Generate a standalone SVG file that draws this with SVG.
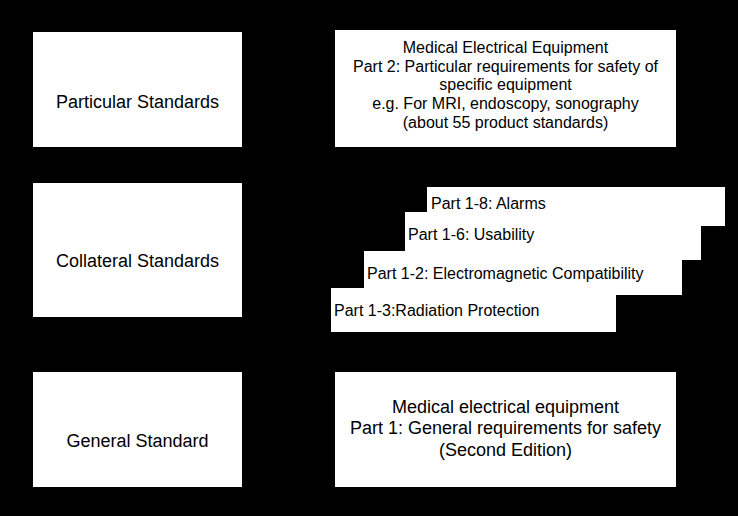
<svg xmlns="http://www.w3.org/2000/svg" width="738" height="516" viewBox="0 0 738 516">
<style>
.box{fill:#fff;stroke:none}
.t18{font-family:"Liberation Sans",Arial,sans-serif;font-size:18px;fill:#000;text-anchor:middle}
.t16{font-family:"Liberation Sans",Arial,sans-serif;font-size:16px;fill:#000;text-anchor:middle}
.s16{font-family:"Liberation Sans",Arial,sans-serif;font-size:16px;fill:#000}
</style>
<rect x="0" y="0" width="738" height="516" fill="#000"/>
<g id="particular">
<rect class="box" x="33" y="32" width="209" height="115"/>
<text class="t18" x="137.5" y="107.5">Particular Standards</text>
</g>
<g id="collateral">
<rect class="box" x="33" y="183" width="209" height="134"/>
<text class="t18" x="137.5" y="266.5">Collateral Standards</text>
</g>
<g id="general">
<rect class="box" x="33" y="372" width="209" height="115"/>
<text class="t18" x="137.5" y="446.5">General Standard</text>
</g>
<g id="part2">
<rect class="box" x="335" y="30" width="341" height="117"/>
<text class="t16" x="505.5" y="53">Medical Electrical Equipment</text>
<text class="t16" x="505.5" y="71.5">Part 2: Particular requirements for safety of</text>
<text class="t16" x="505.5" y="90">specific equipment</text>
<text class="t16" x="505.5" y="109">e.g. For MRI, endoscopy, sonography</text>
<text class="t16" x="505.5" y="128">(about 55 product standards)</text>
</g>
<g id="part1-8">
<rect class="box" x="427" y="187" width="298" height="39"/>
</g>
<g id="part1-6">
<rect class="box" x="405" y="212" width="296" height="48"/>
<text class="s16" x="408" y="239.5">Part 1-6: Usability</text>
</g>
<text class="s16" x="431" y="209">Part 1-8: Alarms</text>
<g id="part1-2">
<rect class="box" x="364" y="251" width="318" height="44"/>
<text class="s16" x="367" y="278.5">Part 1-2: Electromagnetic Compatibility</text>
</g>
<g id="part1-3">
<rect class="box" x="331" y="288" width="285" height="44"/>
<text class="s16" x="334" y="315.5">Part 1-3:Radiation Protection</text>
</g>
<g id="part1">
<rect class="box" x="335" y="372" width="341" height="115"/>
<text class="t18" x="505.5" y="412.5">Medical electrical equipment</text>
<text class="t18" x="505.5" y="434">Part 1: General requirements for safety</text>
<text class="t18" x="505.5" y="456">(Second Edition)</text>
</g>
<g id="connectors"></g>
</svg>
